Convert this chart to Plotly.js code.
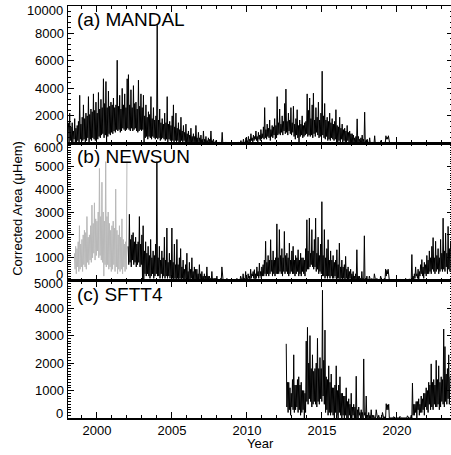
<!DOCTYPE html>
<html><head><meta charset="utf-8">
<script src="https://cdn.plot.ly/plotly-3.0.1.min.js"></script>
<style>html,body{margin:0;padding:0;overflow:hidden;background:#fff}#chart{width:453px;height:455px}</style>
</head><body><div id="chart"></div>
<script>
// Half-monthly readings (µHem): a monthly peak and a monthly trough, one row per year
const mandalStart = 1998.1;
const mandalPeaks = [
  1500, 2200, 1200, 1500, 900, 1800, 1100, 1300, 1600, 3500, 1400, 1900,
  2800, 1800, 2200, 2000, 3400, 2100, 2500, 2300, 3600, 2400, 3000, 2200,
  3700, 2500, 3200, 2600, 4700, 2900, 4500, 2600, 3800, 2700, 3000, 2800,
  3300, 2600, 2800, 6050, 2700, 3500, 2500, 4000, 2800, 3600, 2600, 4700,
  5000, 2800, 3900, 2600, 4200, 2900, 3000, 2500, 4600, 2700, 3600, 2600,
  3500, 2000, 2800, 1900, 2300, 2100, 3400, 1800, 2600, 1700, 2000, 8600,
  1700, 2500, 1500, 1800, 1400, 2200, 1500, 3400, 1400, 1600, 1300, 2000,
  2800, 1200, 2200, 1100, 1500, 1000, 1900, 900, 1300, 800, 1400, 700,
  900, 600, 1100, 500, 700, 500, 1300, 400, 800, 400, 600, 300,
  900, 300, 500, 200, 400, 300, 900, 200, 300, 100, 200, 100,
  0, 100, 0, 800, 0, 0, 100, 0, 0, 0, 0, 0,
  0, 0, 0, 0, 100, 0, 200, 0, 300, 100, 400, 200,
  500, 300, 700, 400, 600, 500, 900, 500, 800, 600, 1000, 700,
  1200, 2600, 1000, 1400, 1100, 1700, 1000, 1300, 1200, 1800, 1300, 3400,
  1500, 2500, 1400, 2000, 1600, 2900, 3950, 1600, 2200, 1700, 2600, 1500,
  2700, 1400, 1800, 2450, 1300, 1700, 1400, 2000, 1300, 1500, 1600, 3600,
  2400, 3300, 1800, 2800, 3650, 1700, 2600, 1900, 3000, 1700, 2200, 5250,
  2000, 2900, 1700, 1900, 1600, 2200, 1500, 1800, 1400, 1600, 2450, 1300,
  1200, 1900, 1100, 1400, 1000, 1100, 900, 1300, 800, 900, 700, 700,
  600, 400, 500, 1780, 500, 300, 400, 600, 300, 2270, 200, 300,
  100, 400, 0, 100, 0, 550, 0, 0, 100, 0, 200, 0,
  0, 100, 550, 450, 550, 0
];
const mandalTroughs = [
  0, 200, 100, 0, 300, 100, 0, 200, 100, 300, 0, 200,
  300, 100, 200, 400, 100, 300, 200, 400, 300, 200, 400, 300,
  500, 400, 600, 700, 400, 600, 0, 500, 700, 600, 800, 700,
  900, 800, 1000, 900, 1000, 800, 900, 1100, 1000, 900, 1000, 1100,
  1000, 900, 1100, 900, 1000, 1100, 900, 800, 900, 1000, 900, 1000,
  0, 400, 500, 300, 500, 400, 300, 500, 400, 300, 400, 300,
  400, 200, 300, 400, 300, 200, 300, 100, 300, 200, 300, 200,
  100, 200, 100, 200, 0, 100, 200, 100, 200, 100, 0, 100,
  0, 100, 0, 100, 0, 0, 100, 0, 100, 0, 0, 0,
  0, 0, 0, 100, 0, 0, 0, 0, 0, 0, 0, 0,
  0, 0, 0, 0, 0, 0, 0, 0, 0, 0, 0, 0,
  0, 0, 0, 0, 0, 0, 0, 0, 0, 0, 0, 100,
  100, 100, 200, 100, 200, 300, 200, 100, 300, 200, 300, 400,
  300, 400, 300, 500, 400, 200, 500, 400, 600, 300, 400, 600,
  700, 600, 800, 600, 900, 700, 800, 600, 900, 700, 600, 800,
  500, 300, 600, 400, 0, 500, 600, 400, 500, 600, 700, 500,
  600, 500, 600, 400, 700, 500, 800, 600, 400, 500, 400, 600,
  400, 300, 500, 200, 300, 200, 400, 300, 200, 300, 200, 100,
  200, 100, 300, 0, 200, 100, 0, 200, 100, 0, 100, 0,
  0, 0, 100, 0, 100, 0, 0, 100, 0, 0, 0, 0,
  0, 0, 0, 0, 0, 0, 0, 0, 0, 0, 0, 0,
  0, 0, 300, 300, 0
];

const newsunGrayStart = 1998.5;
const newsunGrayPeaks = [
  1200, 1500, 1400, 1700, 2400, 1600, 1800, 2000, 2200, 2100, 2800, 1900,
  2000, 2400, 3300, 2500, 3400, 2700, 2600, 3000, 4900, 2800, 4300, 3000,
  2600, 5200, 2800, 3000, 2500, 2200, 2400, 2600, 2300, 4000, 2200, 2000,
  2400, 1900, 2700, 1800, 1600, 1700, 5200
];
const newsunGrayTroughs = [
  500, 300, 600, 400, 500, 600, 400, 700, 600, 500, 800, 700,
  900, 800, 1000, 1200, 900, 1100, 1300, 1000, 1100, 900, 800, 200,
  700, 600, 700, 500, 600, 400, 500, 700, 400, 600, 300, 500,
  400, 500, 300, 600, 400, 500
];

const newsunStart = 2002.08;
const newsunPeaks = [
  1500, 2900, 1800, 2000, 2100, 1700, 1900, 1600, 1700, 2800, 1600, 2000,
  2400, 1300, 1700, 1200, 1500, 1100, 1800, 1000, 1300, 1100, 1600, 5200,
  1000, 1500, 900, 1300, 1000, 1900, 900, 2300, 800, 1200, 900, 2300,
  800, 1600, 700, 1800, 700, 1000, 1400, 600, 900, 500, 700, 1200,
  400, 800, 500, 1000, 400, 600, 500, 500, 300, 700, 300, 400,
  200, 300, 200, 600, 200, 200, 100, 400, 100, 100, 100, 200,
  0, 0, 100, 600, 0, 0, 0, 100, 0, 0, 0, 0,
  0, 0, 0, 100, 0, 0, 200, 0, 300, 100, 400, 100,
  300, 200, 500, 300, 400, 480, 300, 600, 400, 770, 400, 600,
  700, 900, 1720, 800, 1100, 900, 1790, 900, 1300, 900, 1000, 2480,
  1000, 2230, 1100, 1400, 1000, 2150, 1100, 1200, 1000, 1640, 900, 1300,
  1500, 900, 1100, 1000, 1350, 900, 1200, 1000, 1000, 900, 1400, 2660,
  1300, 2730, 1200, 2230, 1300, 1800, 2730, 1200, 1900, 1100, 1600, 3450,
  1100, 2230, 1000, 1400, 1790, 900, 1300, 900, 1100, 800, 900, 1350,
  700, 1640, 600, 900, 600, 700, 1060, 500, 600, 400, 500, 300,
  400, 200, 300, 1350, 200, 200, 100, 400, 100, 1960, 100, 200,
  0, 200, 0, 100, 0, 300, 0, 100, 0, 0, 200, 0,
  0, 100, 510, 450, 500, 0, 0, 0, 50, 0, 0, 0,
  0, 0, 50, 0, 0, 0, 100, 0, 0, 80, 0, 1140,
  200, 300, 600, 300, 500, 400, 700, 920, 600, 800, 700, 1100,
  900, 1300, 1000, 1500, 1880, 1000, 1720, 1100, 1400, 1000, 1800, 1200,
  2730, 1300, 2080, 1200, 2370, 1400, 1700
];
const newsunTroughs = [
  700, 800, 600, 900, 700, 800, 600, 700, 800, 600, 700, 0,
  0, 300, 200, 300, 200, 100, 200, 300, 100, 200, 300, 200,
  200, 100, 300, 100, 200, 100, 200, 100, 200, 100, 200, 100,
  0, 100, 0, 100, 0, 100, 0, 100, 0, 0, 100, 0,
  0, 0, 100, 0, 0, 0, 0, 0, 0, 0, 0, 0,
  0, 0, 0, 0, 0, 0, 0, 0, 0, 0, 0, 0,
  0, 0, 0, 0, 0, 0, 0, 0, 0, 0, 0, 0,
  0, 0, 0, 0, 0, 0, 0, 0, 0, 0, 0, 0,
  100, 0, 100, 200, 100, 0, 100, 200, 100, 200, 100, 200,
  200, 300, 200, 300, 200, 300, 400, 200, 300, 200, 300, 300,
  300, 400, 300, 200, 400, 300, 400, 300, 200, 300, 400, 300,
  300, 200, 300, 400, 200, 300, 200, 400, 300, 200, 400, 500,
  500, 600, 700, 600, 500, 600, 400, 500, 300, 400, 300, 200,
  200, 100, 200, 100, 200, 100, 200, 100, 100, 200, 100, 100,
  100, 0, 100, 0, 100, 0, 100, 0, 0, 100, 0, 0,
  0, 0, 0, 0, 0, 0, 0, 0, 0, 0, 0, 0,
  0, 0, 0, 0, 0, 0, 0, 0, 0, 0, 0, 0,
  0, 0, 200, 300, 0, 0, 0, 0, 0, 0, 0, 0,
  0, 0, 0, 0, 0, 0, 0, 0, 0, 0, 0, 0,
  0, 100, 200, 100, 0, 200, 300, 200, 100, 300, 200, 300,
  300, 400, 300, 500, 400, 300, 400, 500, 300, 400, 500, 400,
  500, 400, 600, 300, 500, 400
];

const sftt4Start = 2012.62;
const sftt4Peaks = [
  2700, 1300, 1300, 1100, 900, 1400, 2300, 1200, 1200, 1400, 1500, 1200,
  1300, 1000, 1000, 900, 2800, 3300, 2000, 3000, 1800, 2300, 1700, 1800,
  2000, 2900, 1800, 2200, 1800, 4650, 2100, 3200, 1500, 1400, 1900, 1300,
  1600, 1100, 1100, 1200, 1900, 1000, 1200, 1500, 900, 900, 800, 800,
  1100, 600, 700, 500, 900, 400, 500, 400, 1520, 300, 400, 200,
  300, 200, 2150, 200, 800, 100, 200, 100, 300, 100, 100, 0,
  300, 0, 100, 0, 0, 200, 0, 50, 520, 480, 500, 0,
  0, 0, 50, 0, 0, 0, 0, 60, 0, 0, 0, 0,
  0, 80, 0, 0, 100, 1270, 500, 500, 600, 600, 700, 500,
  800, 700, 900, 900, 1100, 1000, 1300, 1200, 1970, 1300, 1400, 1200,
  2100, 1400, 1900, 1300, 1500, 1400, 3240, 2600, 1600, 1800, 2300, 1500
];
const sftt4Troughs = [
  400, 200, 300, 100, 400, 300, 200, 300, 400, 200, 300, 100,
  200, 300, 0, 200, 600, 500, 700, 600, 400, 500, 600, 500,
  400, 600, 500, 700, 600, 800, 500, 200, 300, 100, 200, 100,
  200, 100, 0, 200, 100, 0, 200, 100, 0, 100, 0, 100,
  0, 0, 100, 0, 0, 100, 0, 0, 0, 0, 100, 0,
  0, 0, 100, 0, 0, 0, 0, 0, 0, 0, 0, 0,
  0, 0, 0, 0, 0, 0, 0, 0, 300, 300, 0, 0,
  0, 0, 0, 0, 0, 0, 0, 0, 0, 0, 0, 0,
  0, 0, 0, 0, 0, 100, 100, 200, 0, 300, 100, 200,
  200, 300, 100, 400, 300, 200, 500, 300, 400, 300, 500, 400,
  400, 500, 300, 400, 600, 500, 400, 600, 500, 700, 500
];

const panelLabels = ['(a) MANDAL', '(b) NEWSUN', '(c) SFTT4'];
const yTicksA = [0, 2000, 4000, 6000, 8000, 10000];
const yTicksB = [0, 1000, 2000, 3000, 4000, 5000, 6000];
const yTicksC = [0, 1000, 2000, 3000, 4000, 5000];
const xTitle = 'Year';
const yTitle = 'Corrected Area (\u03bcHem)';

function series(start, peaks, troughs) {
  const x = [], y = [];
  for (let i = 0; i < peaks.length; i++) {
    x.push(start + i / 12); y.push(peaks[i]);
    if (i < troughs.length) { x.push(start + i / 12 + 1 / 24); y.push(troughs[i]); }
  }
  return {x: x, y: y};
}
function lineTrace(s, xa, ya, color) {
  return {x: s.x, y: s.y, xaxis: xa, yaxis: ya, type: 'scatter', mode: 'lines', line: {color: color, width: 1}};
}
const black = '#000000', gray = '#b8b8b8';
const traces = [
  lineTrace(series(mandalStart, mandalPeaks, mandalTroughs), 'x', 'y', black),
  lineTrace(series(newsunGrayStart, newsunGrayPeaks, newsunGrayTroughs), 'x2', 'y2', gray),
  lineTrace(series(newsunStart, newsunPeaks, newsunTroughs), 'x2', 'y2', black),
  lineTrace(series(sftt4Start, sftt4Peaks, sftt4Troughs), 'x3', 'y3', black)
];

const font = {family: 'Liberation Sans, Arial, sans-serif', size: 13, color: '#000'};
function xax(anchor, labels) {
  return {anchor: anchor, range: [1998.07, 2023.74], tick0: 2000, dtick: 5, ticks: 'inside', ticklen: 6, tickwidth: 1, tickcolor: '#000',
    minor: {tickmode: 'linear', tick0: 2000, dtick: 1, ticks: 'inside', ticklen: 3, tickcolor: '#000', tickwidth: 1},
    showline: true, linecolor: '#000', linewidth: 1.5, mirror: 'ticks', showgrid: false, zeroline: false,
    showticklabels: labels, tickfont: font};
}
function yax(anchor, domain, ticks, mdt) {
  const top = ticks[ticks.length - 1];
  return {anchor: anchor, domain: domain, range: [0, top], tickmode: 'array', tickvals: ticks,
    ticktext: ticks.map(v => (v === 0 || v === top) ? '' : String(v)),
    ticks: 'inside', ticklen: 6, tickwidth: 1, tickcolor: '#000',
    minor: {tickmode: 'linear', tick0: 0, dtick: mdt, ticks: 'inside', ticklen: 3, tickcolor: '#000', tickwidth: 1},
    showline: true, linecolor: '#000', linewidth: 1.5, mirror: 'ticks', showgrid: false, zeroline: false, tickfont: font};
}
function endLabel(v, yref, shift) {
  return {text: String(v), xref: 'paper', yref: yref, x: 0, y: v, xanchor: 'right', yanchor: 'middle', xshift: -3, yshift: shift, showarrow: false, font: font};
}
const third = 1 / 3;
const labelFont = {family: 'Liberation Sans, Arial, sans-serif', size: 19, color: '#000'};
function panelLabel(t, y) {
  return {text: t, xref: 'paper', yref: 'paper', x: 0.018, y: y, xanchor: 'left', yanchor: 'top', showarrow: false, font: labelFont, yshift: -1};
}
const layout = {
  width: 453, height: 455, margin: {l: 68, r: 0, t: 6, b: 37},
  paper_bgcolor: '#fff', plot_bgcolor: '#fff', showlegend: false, font: font,
  xaxis: xax('y', false), xaxis2: Object.assign(xax('y2', false), {matches: 'x'}), xaxis3: Object.assign(xax('y3', true), {matches: 'x'}),
  yaxis: yax('x', [2 * third, 1], yTicksA, 400),
  yaxis2: yax('x2', [third, 2 * third], yTicksB, 100),
  yaxis3: yax('x3', [0, third], yTicksC, 100),
  annotations: [
    panelLabel(panelLabels[0], 1), panelLabel(panelLabels[1], 2 * third), panelLabel(panelLabels[2], third),
    endLabel(yTicksA[yTicksA.length - 1], 'y', -4), endLabel(0, 'y', 5),
    endLabel(yTicksB[yTicksB.length - 1], 'y2', -4), endLabel(0, 'y2', 6),
    endLabel(yTicksC[yTicksC.length - 1], 'y3', -3), endLabel(0, 'y3', 4),
    {text: yTitle, xref: 'paper', yref: 'paper', x: -0.13, y: 0.51, xanchor: 'center', yanchor: 'middle', textangle: -90, showarrow: false, font: font},
    {text: xTitle, xref: 'paper', yref: 'paper', x: 0.5, y: -0.062, xanchor: 'center', yanchor: 'middle', showarrow: false, font: font}
  ]
};
Plotly.newPlot('chart', traces, layout, {staticPlot: true, displayModeBar: false});
</script>
</body></html>
